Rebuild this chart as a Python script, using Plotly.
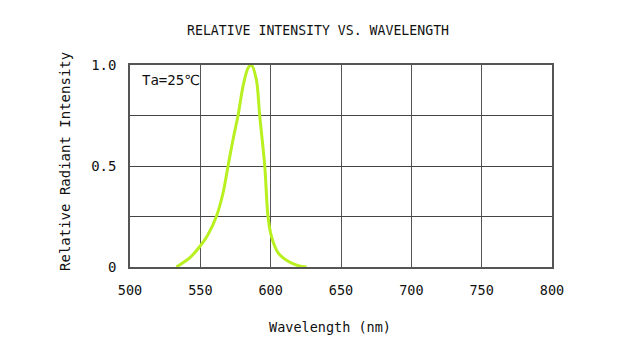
import plotly.graph_objects as go

wavelength = [533, 542.4, 549.5, 555.4, 561.4, 566.1, 569.7, 573.2, 576.8, 580.3, 583.9,
              586.3, 589.9, 592.2, 595.8, 598.1, 600.6, 605.3, 612.4, 619.5, 625.5]
intensity = [0, 0.045, 0.10, 0.16, 0.25, 0.365, 0.5, 0.63, 0.75, 0.893, 0.985,
             1.0, 0.925, 0.75, 0.5, 0.25, 0.15, 0.07, 0.028, 0.007, 0]

x_ticks = [500, 550, 600, 650, 700, 750, 800]
y_ticks = [0, 0.25, 0.5, 0.75, 1.0]
y_ticktext = ["0", "", "0.5", "", "1.0"]

FONT = "DejaVu Sans Mono, DejaVu Sans, Noto Sans CJK JP"

fig = go.Figure()
fig.add_trace(go.Scatter(x=wavelength, y=intensity, mode="lines",
                         line=dict(color="#b8f020", width=3, shape="spline", smoothing=0.8),
                         hoverinfo="skip", showlegend=False))

fig.update_layout(
    width=627, height=347,
    margin=dict(l=122, r=83, t=57, b=88),
    paper_bgcolor="white", plot_bgcolor="white",
    font=dict(family=FONT, size=14, color="#111"),
    xaxis=dict(range=[500, 800], tickvals=x_ticks, showgrid=True, gridcolor="#555", gridwidth=1,
               showline=True, linecolor="#555", linewidth=1.5, mirror=True, zeroline=False,
               ticks="", ticklabelstandoff=10, tickfont=dict(size=13.5)),
    yaxis=dict(range=[0, 1.0], tickvals=y_ticks, ticktext=y_ticktext, showgrid=True,
               gridcolor="#444", gridwidth=1, showline=True, linecolor="#555", linewidth=1.5,
               mirror=True, zeroline=False, ticks="", ticklabelstandoff=9, tickfont=dict(size=14)),
    annotations=[
        dict(text="RELATIVE INTENSITY VS. WAVELENGTH", xref="paper", yref="paper",
             x=0.445, y=1.0, yshift=35, showarrow=False, font=dict(size=13.2),
             xanchor="center", yanchor="middle"),
        dict(text="Wavelength (nm)", xref="paper", yref="paper", x=0.474, y=0, yshift=-60,
             showarrow=False, font=dict(size=13.5), xanchor="center", yanchor="middle"),
        dict(text="Relative Radiant Intensity", xref="paper", yref="paper", x=0, xshift=-65,
             y=0.52, textangle=-90, showarrow=False, font=dict(size=14),
             xanchor="center", yanchor="middle"),
        dict(text="Ta=25℃", xref="paper", yref="paper", x=0, xshift=10, y=1.0, yshift=-15,
             showarrow=False, font=dict(size=14), xanchor="left", yanchor="middle"),
    ],
)

fig.write_html("out.html")
